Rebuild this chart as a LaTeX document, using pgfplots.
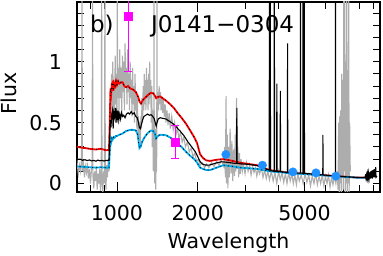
\documentclass[border=0pt]{standalone}
\usepackage{fontspec}
\setmainfont{DejaVu Sans}
\usepackage{pgfplots}
\pgfplotsset{compat=1.18}
\definecolor{mygray}{gray}{0.68}
\definecolor{skyb}{RGB}{30,144,255}
\definecolor{mag}{RGB}{255,0,255}

\pgfplotstableread{
w f
700 0.12
710 0.18
718 0.08
725 0.15
732 0.10
738 0.20
741 1.60
744 0.10
750 0.16
757 0.05
763 0.14
770 0.09
776 0.17
783 0.04
790 0.12
797 0.00
803 0.10
808 0.18
811 1.60
814 0.06
820 -0.04
826 0.10
832 0.02
838 0.14
844 -0.05
850 0.08
856 0.00
862 0.12
868 -0.06
874 0.05
877 1.60
880 0.02
886 -0.07
892 0.10
898 0.00
902 1.60
905 0.05
910 -0.05
916 0.15
922 0.05
928 0.20
934 0.10
940 0.45
945 0.70
950 0.50
955 0.90
960 0.60
965 1.00
970 0.55
975 0.85
980 0.60
985 1.05
990 0.65
995 0.90
1000 0.50
1003 1.60
1006 0.70
1012 0.95
1018 0.60
1024 1.10
1030 0.70
1036 0.95
1042 0.55
1048 1.05
1054 0.75
1060 1.00
1066 0.60
1072 1.15
1078 0.80
1084 0.95
1090 0.65
1096 1.10
1102 0.75
1108 0.90
1114 0.60
1120 1.00
1126 0.70
1132 0.85
1138 0.55
1144 0.95
1150 0.65
1156 0.80
1162 0.50
1168 0.90
1174 0.60
1180 0.75
1186 0.45
1192 0.70
1198 0.40
1204 0.55
1210 0.35
1216 0.50
1222 0.30
1228 0.55
1234 0.45
1240 0.70
1246 0.50
1252 0.80
1258 0.60
1264 0.90
1270 0.65
1276 0.85
1282 0.60
1288 0.95
1294 0.70
1300 0.85
1306 0.60
1312 0.90
1318 0.65
1324 1.00
1330 0.70
1336 0.85
1342 0.50
1348 0.80
1354 0.30
1360 0.60
1366 0.10
1372 0.50
1374 1.60
1377 0.40
1383 0.00
1389 0.45
1395 -0.05
1401 0.30
1406 0.10
1410 1.60
1413 0.50
1420 0.75
1428 0.60
1436 0.80
1444 0.65
1452 0.75
1460 0.60
1470 0.72
1480 0.58
1490 0.70
1500 0.55
1512 0.65
1524 0.50
1536 0.60
1550 0.48
1565 0.58
1580 0.45
1600 0.55
1620 0.44
1640 0.50
1660 0.40
1680 0.46
1700 0.37
1725 0.42
1750 0.34
1775 0.38
1800 0.30
1830 0.34
1860 0.26
1890 0.29
1920 0.22
1950 0.25
1980 0.18
2010 0.20
2040 0.15
2080 0.17
2120 0.13
2160 0.16
2200 0.13
2250 0.17
2300 0.14
2350 0.18
2400 0.15
2450 0.19
2500 0.14
2520 0.30
2535 0.05
2550 0.72
2560 0.00
2575 0.40
2590 -0.04
2605 0.30
2620 0.05
2640 0.45
2660 0.08
2680 0.35
2700 0.02
2720 0.28
2740 0.06
2760 0.40
2775 0.10
2790 0.70
2805 0.12
2820 0.30
2840 0.05
2860 0.25
2880 0.08
2900 0.20
2930 0.10
2960 0.16
3000 0.08
3040 0.17
3080 0.10
3120 0.15
3160 0.07
3200 0.14
3240 0.09
3280 0.13
3320 0.06
3360 0.12
3400 0.08
3450 0.13
3500 0.05
3550 0.11
3600 0.04
3650 0.10
3700 0.03
3760 0.10
3820 0.02
3880 0.09
3940 0.00
4000 0.10
4060 0.03
4120 0.09
4180 0.01
4240 0.08
4300 0.00
4360 0.09
4420 0.02
4480 0.08
4540 0.00
4600 0.07
4660 -0.01
4720 0.08
4780 0.02
4860 0.07
4940 0.00
5020 0.08
5100 0.01
5180 0.07
5260 -0.02
5340 0.06
5420 0.00
5500 0.08
5580 -0.01
5660 0.06
5740 0.00
5820 0.07
5900 -0.02
5980 0.06
6060 0.00
6140 0.07
6220 -0.03
6300 0.05
6380 -0.01
6460 0.06
6540 0.00
6620 0.10
6660 -0.05
6700 0.50
6730 -0.07
6760 0.55
6790 0.00
6820 0.60
6850 -0.07
6880 0.90
6910 0.05
6940 0.85
6970 -0.05
7000 1.60
7030 0.10
7060 1.60
7090 -0.07
7120 1.00
7150 0.00
7180 1.60
7210 -0.07
7240 0.80
7270 0.00
7300 1.60
7330 -0.07
7360 0.50
7400 0.10
}\grayspec

\pgfplotstableread{
w f
700 0.306
733 0.295
766 0.290
800 0.283
835 0.279
870 0.285
910 0.273
934 0.275
940 0.50
946 0.78
952 0.74
958 0.82
964 0.83
970 0.76
976 0.82
984 0.80
992 0.84
1000 0.81
1010 0.84
1020 0.82
1035 0.83
1050 0.83
1065 0.80
1080 0.79
1100 0.80
1120 0.78
1150 0.77
1177 0.75
1200 0.71
1215 0.67
1229 0.656
1245 0.68
1260 0.695
1283 0.71
1310 0.73
1340 0.745
1365 0.74
1385 0.72
1400 0.70
1420 0.71
1445 0.715
1480 0.70
1523 0.68
1580 0.65
1630 0.62
1680 0.58
1740 0.54
1809 0.49
1880 0.43
1940 0.38
1990 0.33
2040 0.24
2090 0.21
2150 0.19
2223 0.185
2350 0.195
2493 0.20
2700 0.185
2877 0.17
3100 0.16
3321 0.15
3500 0.13
3700 0.11
4400 0.087
5900 0.068
7800 0.049
8400 0.048
}\redmod

\pgfplotstableread{
w f
700 0.142
733 0.138
766 0.135
800 0.132
835 0.130
870 0.133
910 0.130
934 0.130
940 0.25
946 0.36
952 0.34
958 0.37
964 0.36
972 0.38
980 0.375
990 0.39
1000 0.39
1020 0.40
1050 0.41
1080 0.43
1120 0.44
1150 0.44
1177 0.435
1195 0.40
1206 0.33
1213 0.29
1225 0.30
1240 0.34
1260 0.37
1283 0.396
1310 0.42
1340 0.435
1365 0.43
1385 0.41
1398 0.37
1410 0.38
1430 0.395
1460 0.40
1523 0.396
1600 0.37
1660 0.34
1740 0.30
1809 0.26
1880 0.225
1940 0.20
1990 0.17
2040 0.13
2089 0.12
2150 0.11
2223 0.11
2350 0.13
2493 0.15
2700 0.14
2877 0.13
3100 0.125
3321 0.12
3500 0.11
3700 0.10
4400 0.085
5900 0.066
7800 0.048
8400 0.047
}\cyanmod

\pgfplotstableread{
w f
700 0.205
715 0.198
730 0.200
745 0.190
760 0.195
775 0.188
790 0.193
805 0.185
820 0.190
835 0.183
850 0.192
865 0.186
880 0.190
895 0.184
910 0.190
925 0.188
934 0.190
939 0.35
944 0.52
950 0.46
956 0.57
962 0.60
968 0.45
974 0.58
980 0.55
986 0.62
992 0.50
998 0.58
1004 0.54
1010 0.60
1016 0.52
1024 0.57
1032 0.53
1040 0.58
1050 0.55
1060 0.56
1072 0.54
1085 0.57
1100 0.58
1115 0.57
1130 0.59
1145 0.57
1160 0.58
1175 0.55
1190 0.54
1203 0.50
1212 0.46
1222 0.45
1232 0.48
1245 0.52
1260 0.55
1280 0.56
1300 0.57
1320 0.56
1340 0.565
1360 0.55
1378 0.53
1392 0.49
1400 0.47
1410 0.50
1425 0.53
1450 0.54
1480 0.535
1520 0.53
1570 0.51
1620 0.49
1670 0.46
1720 0.43
1780 0.39
1840 0.34
1900 0.30
1960 0.26
2000 0.22
2040 0.18
2080 0.16
2130 0.152
2200 0.150
2280 0.160
2360 0.170
2450 0.178
2550 0.175
2650 0.170
2750 0.165
2790 0.165
2797 0.62
2804 0.165
2900 0.160
3050 0.158
3200 0.152
3320 0.148
3450 0.135
3580 0.120
3690 0.110
3700 1.70
3712 0.110
3722 1.70
3735 0.110
3750 0.105
3850 0.100
3858 1.70
3866 0.100
3935 0.100
3943 0.82
3951 0.100
4055 0.097
4062 0.76
4070 0.097
4315 0.090
4322 1.15
4329 0.090
4420 0.087
4820 0.085
4828 1.70
4836 0.085
4925 0.084
4933 1.70
4941 0.084
4980 0.083
4988 1.70
4996 0.083
5200 0.080
5500 0.075
5845 0.070
5852 0.40
5859 0.070
6200 0.065
6510 0.062
6518 1.70
6526 0.062
7000 0.056
7500 0.052
7840 0.049
8200 0.048
8400 0.050
8420 0.060
8460 0.040
8500 0.070
8540 0.040
8580 0.080
8620 0.040
8660 0.085
8700 0.045
8740 0.090
8780 0.040
8820 0.100
8860 0.045
8900 0.105
8940 0.040
8980 0.110
9020 0.050
9060 0.115
9100 0.050
9140 0.120
9180 0.050
9200 0.135
9230 0.050
9300 0.060
}\blackmod

\begin{document}
\fontsize{20.5bp}{24bp}\selectfont
\begin{tikzpicture}
\path[use as bounding box] (0,0) rectangle (383bp,256bp);
\begin{axis}[
  at={(77bp,64bp)}, anchor=south west,
  scale only axis, width=303bp, height=190bp,
  xmode=log, xmin=710, xmax=9550, ymin=-0.07, ymax=1.49,
  xtick={1000,2000,5000}, xticklabels={1000,2000,5000},
  minor xtick={700,800,900,3000,4000,6000,7000,8000,9000},
  ytick={0,0.5,1}, yticklabels={0,0.5,1},
  minor ytick={0,0.1,0.2,0.3,0.4,0.5,0.6,0.7,0.8,0.9,1.0,1.1,1.2,1.3,1.4},
  major y tick style={draw=none},
  tick align=inside,
  major tick length=10bp, minor tick length=7bp,
  tick style={black, line width=0.9bp},
  axis line style={line width=1.3bp},
  /pgf/number format/assume math mode=true,
  xticklabel style={yshift=-6bp},
  yticklabel style={xshift=-8bp},
]
\addplot[mygray, line width=1.1bp] table {\grayspec};
\addplot[red, line width=1.8bp] table {\redmod};
\addplot[black, line width=0.9bp, dash pattern=on 1bp off 3.2bp] table {\redmod};
\addplot[cyan, line width=1.8bp] table {\cyanmod};
\addplot[black, line width=0.9bp, dash pattern=on 1bp off 3.2bp] table {\cyanmod};
\addplot[black, line width=1.1bp] table {\blackmod};
\addplot[only marks, mark=*, mark size=4.2bp, mark options={fill=skyb, draw=skyb}] coordinates {
(2545,0.238) (3484,0.150) (4523,0.095) (5514,0.087) (6539,0.060)};
% error bars of the two photometric points
\addplot[mag, line width=1bp, mark=none] coordinates {(1102,0.92) (1102,1.87)};
\addplot[mag, line width=1bp, mark=none] coordinates {(1650,0.204) (1650,0.478)};
\addplot[mag, only marks, mark=-, mark size=4bp, mark options={line width=1bp, draw=mag}] coordinates {(1102,0.92) (1650,0.204) (1650,0.478)};
\addplot[mag, only marks, mark=square*, mark size=4bp, mark options={fill=mag, draw=mag}] coordinates {(1102,1.37) (1650,0.341)};
\end{axis}
\node[anchor=base west, font=\fontsize{23bp}{27bp}\selectfont] at (83bp,223bp) {b)};
\node[anchor=base west, font=\fontsize{23bp}{27bp}\selectfont] at (144bp,223bp) {J0141−0304};
\node[anchor=base] at (228.5bp,8bp) {Wavelength};
\node[rotate=90, anchor=center] at (9bp,162.5bp) {Flux};
\end{tikzpicture}
\end{document}
